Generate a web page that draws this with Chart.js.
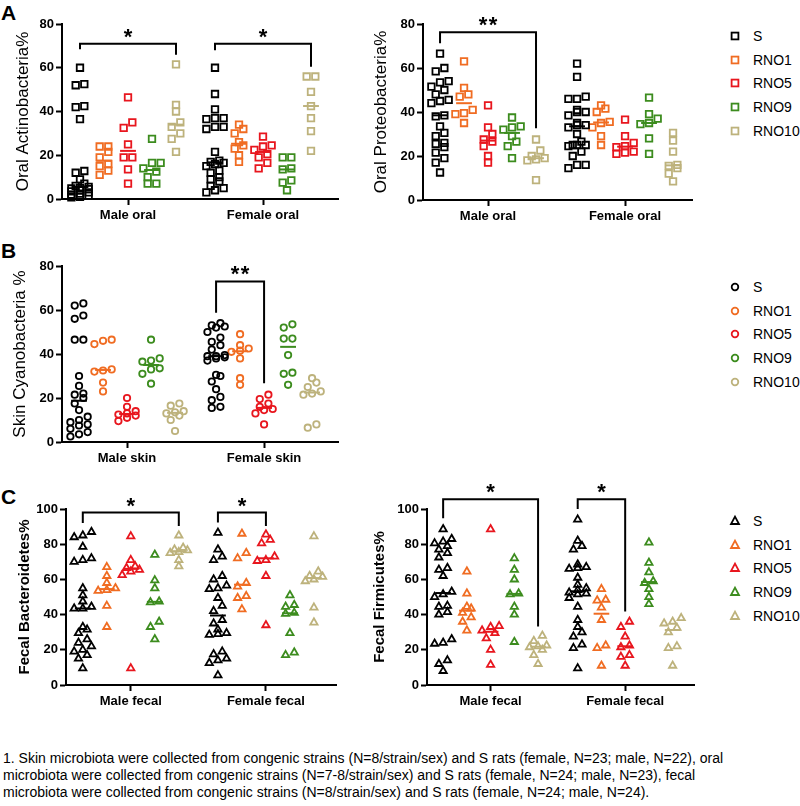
<!DOCTYPE html>
<html>
<head>
<meta charset="utf-8">
<script src="https://cdn.jsdelivr.net/npm/chart.js@4.4.1/dist/chart.umd.min.js"></script>
<style>
  body { margin: 0; background: #fff; font-family: "Liberation Sans", Arial, sans-serif; color: #000; }
  #page { position: relative; width: 800px; height: 806px; overflow: hidden; }
  .box { position: absolute; }
  .letter { position: absolute; left: 1px; font-weight: bold; font-size: 21px; line-height: 21px; }
  .legend { position: absolute; left: 728px; font-size: 14px; }
  .legend div { height: 23.7px; display: flex; align-items: center; }
  .legend svg { width: 14px; height: 14px; margin-right: 11px; }
  .note { position: absolute; left: 3px; top: 750px; font-size: 14px; line-height: 17px; white-space: nowrap; }
</style>
</head>
<body>
<div id="page">
  <div class="letter" style="top:2px">A</div>
  <div class="letter" style="top:240px">B</div>
  <div class="letter" style="top:486px">C</div>

  <div class="box" style="left:0;top:0"><canvas id="oralActino" width="345" height="235"></canvas></div>
  <div class="box" style="left:365px;top:0"><canvas id="oralProteo" width="335" height="235"></canvas></div>
  <div class="box" style="left:0;top:236px"><canvas id="skinCyano" width="345" height="240"></canvas></div>
  <div class="box" style="left:0;top:480px"><canvas id="fecalBact" width="345" height="240"></canvas></div>
  <div class="box" style="left:365px;top:480px"><canvas id="fecalFirm" width="335" height="240"></canvas></div>

  <div class="legend" id="legendA" style="top:24px"></div>
  <div class="legend" id="legendB" style="top:275px"></div>
  <div class="legend" id="legendC" style="top:509px"></div>

  <div class="note">1. Skin microbiota were collected from congenic strains (N=8/strain/sex) and S rats (female, N=23; male, N=22), oral<br>microbiota were collected from congenic strains (N=7-8/strain/sex) and S rats (female, N=24; male, N=23), fecal<br>microbiota were collected from congenic strains (N=8/strain/sex) and S rats (female, N=24; male, N=24).</div>
</div>

<script>
// strains and colours
const strains = ['S', 'RNO1', 'RNO5', 'RNO9', 'RNO10'];
const strainColors = ['#000000', '#F06C22', '#E8161E', '#3C8C1E', '#BDB27C'];

const yTicks80 = [0, 20, 40, 60, 80];
const yTicks100 = [0, 20, 40, 60, 80, 100];
const oralLabels = ['Male oral', 'Female oral'];
const skinLabels = ['Male skin', 'Female skin'];
const fecalLabels = ['Male fecal', 'Female fecal'];

// A - oral Actinobacteria %  (one list per strain: S, RNO1, RNO5, RNO9, RNO10)
const actinoMale = [
    [60, 52.5, 52, 42.5, 42, 36.5, 12.8, 12, 9, 7, 6, 5.5, 5, 4.8, 4.5, 4, 3.5, 3, 2.5, 2, 1.5, 1, 0.8],
    [24, 24, 21.5, 19, 16, 15, 13, 11],
    [46.5, 35, 32.5, 25, 19, 19, 13.5, 7],
    [27.5, 16.5, 16.5, 14, 12.5, 10, 7, 7],
    [61.5, 43, 40, 35, 33, 30, 27.5, 21.5]
];
const actinoFemale = [
    [60, 48, 41, 37, 37, 36.5, 33, 33, 32, 21.5, 17.5, 17, 16.5, 16, 15, 13, 12, 10, 9, 8, 6, 5, 4, 3],
    [34, 32, 30, 26, 24.5, 23, 20, 17],
    [28.5, 24.5, 24, 22.5, 20.5, 19, 16.5, 14],
    [19, 19, 14, 13.5, 8.5, 7.5, 4],
    [56, 56, 49, 42.5, 37, 31, 22]
];
// brackets: sex (0 male, 1 female), strain from/to, top value, leg ends
const actinoBrackets = [
    { sex: 0, from: 0, to: 4, top: 71, left: 68.5, right: 66, mark: '*' },
    { sex: 1, from: 0, to: 4, top: 71, left: 68, right: 60.5, mark: '*' }
];

// A - oral Proteobacteria %
const proteoMale = [
    [66.5, 60, 58.5, 54, 53.5, 51.5, 50, 48, 45.5, 45, 44, 38.5, 38, 33.5, 30.5, 29, 26, 25.5, 24, 21.5, 19, 17, 12.5],
    [63, 51, 48, 47, 41, 39.5, 39, 35],
    [43, 33, 30, 27.5, 26.5, 24.5, 20, 17],
    [37.5, 33.5, 33, 32, 29, 26.5, 24.5, 19],
    [27.5, 22.5, 20, 19, 18.5, 18, 9]
];
const proteoFemale = [
    [62, 56, 47, 46, 46, 41, 40, 40, 38.5, 35, 34, 34, 33, 30, 26.5, 25, 25, 25, 24.5, 22, 20, 16, 16, 14.5],
    [43, 41.5, 40, 35.5, 35, 33, 29, 25],
    [36.5, 29, 26, 24.5, 24, 22, 21.5, 21],
    [46.5, 39, 37, 35, 34.5, 28, 21],
    [30.5, 27, 22, 16, 15.5, 14.5, 12, 8.5]
];
const proteoBrackets = [
    { sex: 0, from: 0, to: 4, top: 76.2, left: 71.3, right: 32.6, mark: '**' }
];

// B - skin Cyanobacteria %
const cyanoMale = [
    [63, 62, 57.5, 56, 46.5, 46.5, 30, 25.5, 22, 21.5, 20, 17.5, 14.5, 11.5, 10, 9, 8, 7.5, 6, 4.5, 3.5, 2.5],
    [46.5, 46, 44.5, 33, 32.5, 32, 27, 23],
    [20, 16, 14, 13, 12.5, 12, 11, 9.5],
    [46.5, 38, 37, 36.5, 33.5, 33, 31, 26.5],
    [17.5, 16.5, 14, 13.5, 13, 12, 10, 5]
];
const cyanoFemale = [
    [54, 53, 52.5, 52, 50, 47.5, 45.5, 44, 42, 39.5, 39, 39, 38.5, 38, 37, 30.5, 30, 27.5, 24, 20.5, 19, 16, 15.5],
    [49, 44, 42.5, 41.5, 41, 38, 29, 26],
    [21.5, 19.5, 17.5, 16, 15, 14.5, 13, 8],
    [53.5, 52, 47, 47, 39.5, 31.5, 31, 26],
    [29, 27, 25, 23, 22, 21.5, 8, 6.5]
];
const cyanoBrackets = [
    { sex: 1, from: 0, to: 2, top: 73, left: 58.8, right: 26.7, mark: '**' }
];

// C - fecal Bacteroidetes %
const bactMale = [
    [87, 85, 84, 78.5, 72, 71, 70, 55, 51, 47.5, 44.5, 43.5, 43.5, 33, 31.5, 29.5, 26, 24, 22, 20, 19, 17, 15, 9.5],
    [67, 62, 58, 55, 54, 53.5, 45, 33],
    [84.5, 71, 67.5, 66.5, 65.5, 64.5, 62.5, 9.5],
    [74, 59.5, 55, 47.5, 47, 36, 33, 26],
    [85, 78, 77, 76.5, 75.5, 75, 71, 67.5]
];
const bactFemale = [
    [86.5, 77, 73, 71, 62, 60, 56.5, 55, 54.5, 49.5, 45, 42, 37, 35, 31.5, 29.5, 29, 28.5, 19, 17.5, 15, 14, 12.5, 5.5],
    [86, 75, 72, 58, 56, 50.5, 49.5, 43],
    [85.5, 82.5, 80.5, 73, 71, 70.5, 62, 34],
    [51, 45.5, 44.5, 41, 40.5, 29.5, 18.5, 17],
    [84.5, 64.5, 62, 61.5, 60, 59, 44, 35.5]
];
const bactBrackets = [
    { sex: 0, from: 0, to: 4, top: 98, left: 92, right: 90.4, mark: '*' },
    { sex: 1, from: 0, to: 2, top: 98, left: 92.4, right: 90.4, mark: '*' }
];

// C - fecal Firmicutes %
const firmMale = [
    [88.5, 83, 81.5, 80.5, 79, 77, 75, 72.5, 66.5, 65.5, 62, 53, 51.5, 50, 45, 44.5, 41.5, 40, 26, 24, 23.5, 14, 12, 8],
    [64.5, 52, 44.5, 43.5, 41, 38.5, 36, 31],
    [88.5, 33.5, 33, 31, 29.5, 26.5, 20, 11.5],
    [72, 65.5, 60, 52, 51.5, 44.5, 40, 24.5],
    [28, 25, 22.5, 22, 21.5, 20, 17, 12]
];
const firmFemale = [
    [94, 82, 79, 77, 68.5, 67, 66.5, 66, 61, 57, 55, 54, 52.5, 52, 51.5, 49.5, 44.5, 37, 33, 30, 27.5, 23, 21, 9.5],
    [54.5, 48.5, 48, 44, 37, 22.5, 21, 11],
    [36, 33, 27.5, 22.5, 21.5, 17, 16, 11],
    [81, 69.5, 64, 59, 58, 54.5, 50, 46],
    [38, 36, 35, 32.5, 30, 22, 21, 11]
];
const firmBrackets = [
    { sex: 0, from: 0, to: 4, top: 105.6, left: 94.8, right: 33.2, mark: '*' },
    { sex: 1, from: 0, to: 2, top: 105.6, left: 100, right: 41.7, mark: '*' }
];

Chart.defaults.font.family = '"Liberation Sans", Arial, sans-serif';
Chart.defaults.color = '#000';

function median(vals) {
    const s = vals.slice().sort((a, b) => a - b);
    const n = s.length;
    return n % 2 ? s[(n - 1) / 2] : (s[n / 2 - 1] + s[n / 2]) / 2;
}

// simple scatter-dot layout: near values share a row and are spread side by side
function swarm(vals, center, pxPerY) {
    const s = vals.slice().sort((a, b) => a - b);
    const pts = [];
    let row = [];
    const flush = () => {
        row.forEach((v, i) => pts.push({ x: center + (i - (row.length - 1) / 2) * 0.36, y: v }));
        row = [];
    };
    s.forEach(v => {
        if (row.length && ((v - row[0]) * pxPerY > 5.5 || row.length >= 3)) flush();
        row.push(v);
    });
    flush();
    return pts;
}

function makePanel(id, p) {
    const datasets = [];
    const sexes = [p.male, p.female];

    // median lines
    sexes.forEach((sexData, s) => sexData.forEach((vals, g) => {
        const c = p.starts[s] + g;
        const m = median(vals);
        datasets.push({
            showLine: true, data: [{ x: c - 0.33, y: m }, { x: c + 0.33, y: m }],
            borderColor: strainColors[g], borderWidth: 2, pointRadius: 0, clip: false
        });
    }));

    // significance brackets
    p.brackets.forEach(b => {
        const a = p.starts[b.sex] + b.from;
        const z = p.starts[b.sex] + b.to;
        datasets.push({
            showLine: true,
            data: [{ x: a, y: b.left }, { x: a, y: b.top }, { x: z, y: b.top }, { x: z, y: b.right }],
            borderColor: '#000', borderWidth: 2, pointRadius: 0, clip: false, borderJoinStyle: 'miter'
        });
    });

    // the dots
    sexes.forEach((sexData, s) => sexData.forEach((vals, g) => {
        datasets.push({
            data: swarm(vals, p.starts[s] + g, p.pxPerY),
            pointStyle: p.shape, pointRadius: p.radius, pointBorderWidth: 1.8,
            borderColor: strainColors[g], backgroundColor: 'rgba(0,0,0,0)', clip: false
        });
    }));

    const centers = [p.starts[0] + 2, p.starts[1] + 2];

    new Chart(document.getElementById(id), {
        type: 'scatter',
        data: { datasets },
        options: {
            responsive: false,
            animation: false,
            devicePixelRatio: 1,
            layout: { padding: { top: p.padTop, right: p.padRight, left: 0, bottom: 0 } },
            plugins: { legend: { display: false }, tooltip: { enabled: false } },
            scales: {
                x: {
                    type: 'linear', min: 0, max: p.xMax,
                    afterBuildTicks: s => { s.ticks = centers.map(v => ({ value: v })); },
                    afterFit: s => { s.height = p.xHeight; },
                    ticks: {
                        callback: (v, i) => p.sexLabels[i],
                        font: { size: 13, weight: 'bold' }, color: '#000',
                        padding: 3, autoSkip: false, maxRotation: 0
                    },
                    grid: { drawOnChartArea: false, drawTicks: true, tickLength: 6, tickWidth: 2, tickColor: '#000' },
                    border: { color: '#000', width: 2 }
                },
                y: {
                    min: 0, max: p.yTicks[p.yTicks.length - 1],
                    afterBuildTicks: s => { s.ticks = p.yTicks.map(v => ({ value: v })); },
                    afterFit: s => { s.width = p.yWidth; },
                    ticks: { font: { size: 13, weight: 'bold' }, color: '#000', padding: 2 },
                    grid: { drawOnChartArea: false, drawTicks: true, tickLength: 6, tickWidth: 2, tickColor: '#000' },
                    border: { color: '#000', width: 2 },
                    title: {
                        display: true, text: p.title, color: '#000',
                        font: { size: p.titleSize, weight: p.titleWeight },
                        padding: { top: p.titlePad, bottom: 0 }
                    }
                }
            }
        },
        plugins: [{
            id: 'bracketMarks',
            afterDatasetsDraw(chart) {
                const ctx = chart.ctx;
                const xs = chart.scales.x, ys = chart.scales.y;
                ctx.save();
                ctx.fillStyle = '#000';
                ctx.font = 'bold 22px "Liberation Sans", Arial, sans-serif';
                ctx.textAlign = 'center';
                ctx.textBaseline = 'alphabetic';
                p.brackets.forEach(b => {
                    const mid = p.starts[b.sex] + (b.from + b.to) / 2;
                    const cx = xs.getPixelForValue(mid);
                    const cy = ys.getPixelForValue(b.top) - 12.5;
                    const n = b.mark.length;
                    for (let i = 0; i < n; i++) {
                        ctx.fillText('*', cx + (i - (n - 1) / 2) * 10, cy + 12.5);
                    }
                });
                ctx.restore();
            }
        }]
    });
}

makePanel('oralActino', {
    male: actinoMale, female: actinoFemale, brackets: actinoBrackets,
    sexLabels: oralLabels, yTicks: yTicks80, title: 'Oral Actinobacteria%',
    titleSize: 17, titleWeight: 'normal', titlePad: 13,
    shape: 'rect', radius: 4.6, pxPerY: 2.19,
    starts: [0.75, 6.375], xMax: 11.5,
    padTop: 24, padRight: 7, yWidth: 62, xHeight: 36
});
makePanel('oralProteo', {
    male: proteoMale, female: proteoFemale, brackets: proteoBrackets,
    sexLabels: oralLabels, yTicks: yTicks80, title: 'Oral Proteobacteria%',
    titleSize: 17, titleWeight: 'normal', titlePad: 6,
    shape: 'rect', radius: 4.6, pxPerY: 2.2,
    starts: [0.71, 6.42], xMax: 11.21,
    padTop: 24, padRight: 8, yWidth: 58, xHeight: 35
});
makePanel('skinCyano', {
    male: cyanoMale, female: cyanoFemale, brackets: cyanoBrackets,
    sexLabels: skinLabels, yTicks: yTicks80, title: 'Skin Cyanobacteria %',
    titleSize: 17, titleWeight: 'normal', titlePad: 10,
    shape: 'circle', radius: 3.2, pxPerY: 2.19,
    starts: [0.71, 6.42], xMax: 11.5,
    padTop: 30, padRight: 7, yWidth: 62, xHeight: 34
});
makePanel('fecalBact', {
    male: bactMale, female: bactFemale, brackets: bactBrackets,
    sexLabels: fecalLabels, yTicks: yTicks100, title: 'Fecal Bacteroidetes%',
    titleSize: 15, titleWeight: 'bold', titlePad: 16,
    shape: 'triangle', radius: 4.2, pxPerY: 1.76,
    starts: [0.7, 6.33], xMax: 11.25,
    padTop: 29, padRight: 9, yWidth: 66, xHeight: 35
});
makePanel('fecalFirm', {
    male: firmMale, female: firmFemale, brackets: firmBrackets,
    sexLabels: fecalLabels, yTicks: yTicks100, title: 'Fecal Firmicutes%',
    titleSize: 15, titleWeight: 'bold', titlePad: 6,
    shape: 'triangle', radius: 4.2, pxPerY: 1.76,
    starts: [0.68, 6.35], xMax: 11.25,
    padTop: 29, padRight: 3, yWidth: 62, xHeight: 35
});

// legends
const shapes = {
    rect: '<rect x="3.6" y="3.6" width="6.8" height="6.8" fill="none" stroke-width="1.8" stroke="COL"/>',
    circle: '<circle cx="7" cy="7" r="3.3" fill="none" stroke-width="1.8" stroke="COL"/>',
    triangle: '<polygon points="7,2.6 11,10 3,10" fill="none" stroke-width="1.8" stroke="COL"/>'
};
function makeLegend(id, shape) {
    const el = document.getElementById(id);
    strains.forEach((name, i) => {
        const row = document.createElement('div');
        row.innerHTML = '<svg viewBox="0 0 14 14">' + shapes[shape].replace('COL', strainColors[i]) + '</svg><span>' + name + '</span>';
        el.appendChild(row);
    });
}
makeLegend('legendA', 'rect');
makeLegend('legendB', 'circle');
makeLegend('legendC', 'triangle');
</script>
</body>
</html>
